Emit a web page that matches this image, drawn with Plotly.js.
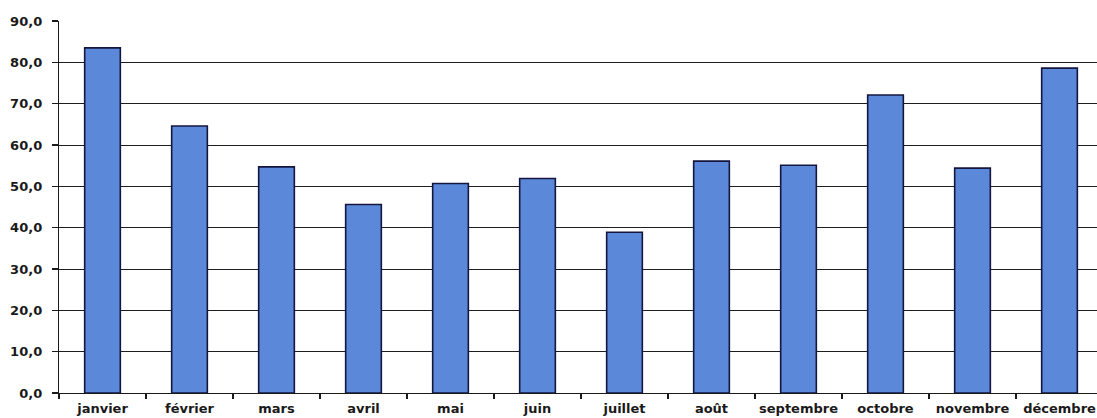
<!DOCTYPE html>
<html>
<head>
<meta charset="utf-8">
<script src="https://cdn.plot.ly/plotly-3.0.1.min.js"></script>
<style>
  html, body { margin: 0; padding: 0; overflow: hidden; background: #fff; }
  #chart { width: 1104px; height: 418px; }
</style>
</head>
<body>
<div id="chart"></div>
<script>
// Valeurs mensuelles
const mois = ['janvier', 'février', 'mars', 'avril', 'mai', 'juin',
              'juillet', 'août', 'septembre', 'octobre', 'novembre', 'décembre'];
const valeurs = [83.5, 64.6, 54.7, 45.6, 50.7, 51.9, 38.9, 56.1, 55.1, 72.1, 54.4, 78.6];
const graduations = [0, 10, 20, 30, 40, 50, 60, 70, 80, 90];

const police = 'DejaVu Sans, Verdana, sans-serif';

const trace = {
  type: 'bar',
  x: mois,
  y: valeurs,
  width: 0.41,
  marker: {
    color: '#5b88d8',
    line: { color: '#14163f', width: 1.6 }
  },
  hoverinfo: 'x+y'
};

const layout = {
  width: 1104,
  height: 418,
  margin: { l: 59, r: 1, t: 21, b: 25 },
  paper_bgcolor: '#ffffff',
  plot_bgcolor: '#ffffff',
  separators: ', ',
  showlegend: false,
  font: { family: police, color: '#1a1a1a' },
  xaxis: {
    type: 'category',
    range: [-0.5, 11.5],
    showline: true,
    linecolor: '#1a1a1a',
    linewidth: 1.2,
    ticks: 'outside',
    tickson: 'boundaries',
    ticklen: 5,
    tickcolor: '#1a1a1a',
    tickwidth: 1.2,
    tickangle: 0,
    tickfont: { size: 13, family: police, weight: 'bold', color: '#1a1a1a' },
    showgrid: false,
    zeroline: false,
    ticklabelstandoff: 3
  },
  yaxis: {
    range: [0, 90],
    tickvals: graduations,
    tickformat: '.1f',
    showline: true,
    linecolor: '#1a1a1a',
    linewidth: 1.2,
    ticks: 'outside',
    ticklen: 6,
    tickcolor: '#1a1a1a',
    tickwidth: 1.2,
    ticklabelstandoff: 7,
    tickfont: { size: 13, family: police, weight: 'bold', color: '#1a1a1a' },
    showgrid: true,
    gridcolor: '#1e1e1e',
    gridwidth: 1,
    zeroline: false
  }
};

Plotly.newPlot('chart', [trace], layout, { displayModeBar: false, staticPlot: true });
</script>
</body>
</html>
